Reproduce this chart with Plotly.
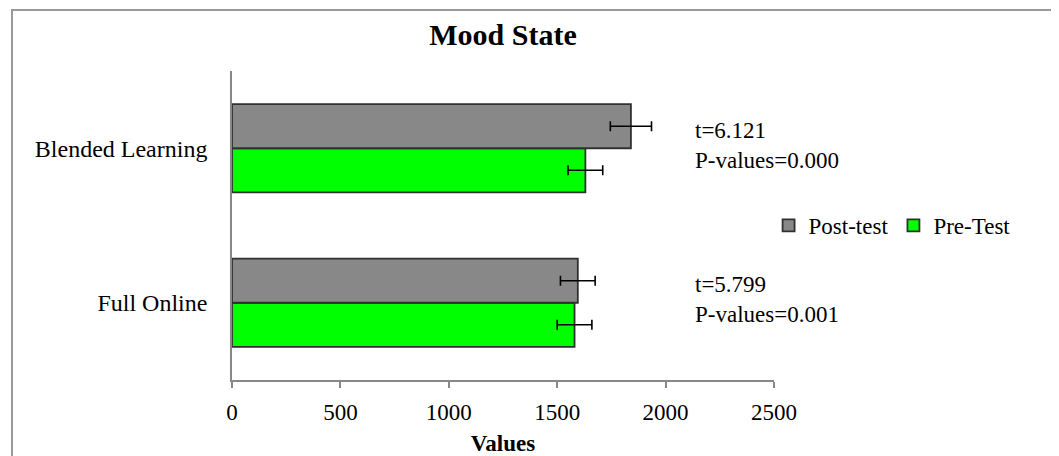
import plotly.graph_objects as go

categories = ["Full Online", "Blended Learning"]
pre_test = [1580, 1630]
post_test = [1595, 1840]
pre_err = [80, 80]
post_err = [80, 95]
stats_t = ["t=5.799", "t=6.121"]
stats_p = ["P-values=0.001", "P-values=0.000"]
x_ticks = [0, 500, 1000, 1500, 2000, 2500]

FONT = "Liberation Serif, Times New Roman, serif"

fig = go.Figure()
fig.add_trace(go.Bar(
    name="Pre-Test", y=categories, x=pre_test, orientation="h",
    marker=dict(color="#00ff00", line=dict(color="#303030", width=1.8)),
    error_x=dict(type="data", array=pre_err, color="black", thickness=1.6, width=5),
))
fig.add_trace(go.Bar(
    name="Post-test", y=categories, x=post_test, orientation="h",
    marker=dict(color="#888888", line=dict(color="#303030", width=1.8)),
    error_x=dict(type="data", array=post_err, color="black", thickness=1.6, width=5),
))

annotations = []
for cat, t, p in zip(categories, stats_t, stats_p):
    annotations.append(dict(x=2126, y=cat, xref="x", yref="y", text=t + "<br>" + p,
                            showarrow=False, xanchor="left", yanchor="middle", align="left",
                            yshift=3,
                            font=dict(family=FONT, size=23, color="black")))

fig.update_layout(
    width=1051, height=448,
    margin=dict(l=224, r=285, t=63, b=76),
    paper_bgcolor="white", plot_bgcolor="white",
    barmode="group", bargap=0.43, bargroupgap=0,
    title=dict(text="<b>Mood State</b>", x=0.5, xref="paper", y=0.94, yanchor="middle",
               font=dict(family=FONT, size=30, color="black"), automargin=False),
    font=dict(family=FONT, size=22, color="black"),
    xaxis=dict(range=[0, 2500], tickvals=x_ticks, showgrid=False, zeroline=False,
               showline=True, linecolor="#888888", linewidth=1.5,
               ticks="outside", ticklen=6, tickcolor="#888888", tickwidth=1.5,
               ticklabelstandoff=5, automargin=False,
               tickfont=dict(family=FONT, size=23, color="black"),
               title=dict(text="<b>Values</b>", font=dict(family=FONT, size=23, color="black"), standoff=11)),
    yaxis=dict(showgrid=False, showline=True, linecolor="#888888", linewidth=1.5,
               ticks="", ticklabelstandoff=18, automargin=False,
               tickfont=dict(family=FONT, size=24, color="black")),
    legend=dict(orientation="h", traceorder="reversed", x=0.99, xanchor="left",
                y=0.5, yanchor="middle", font=dict(family=FONT, size=23, color="black"),
                itemwidth=30, bgcolor="rgba(0,0,0,0)"),
    annotations=annotations,
    shapes=[dict(type="rect", xref="paper", yref="paper",
                 x0=(12 - 232) / 542, x1=(1057 - 232) / 542,
                 y0=-0.4, y1=(380 - 10) / 309,
                 line=dict(color="#999999", width=2), fillcolor="rgba(0,0,0,0)", layer="below")],
)

fig.write_html("out.html")
